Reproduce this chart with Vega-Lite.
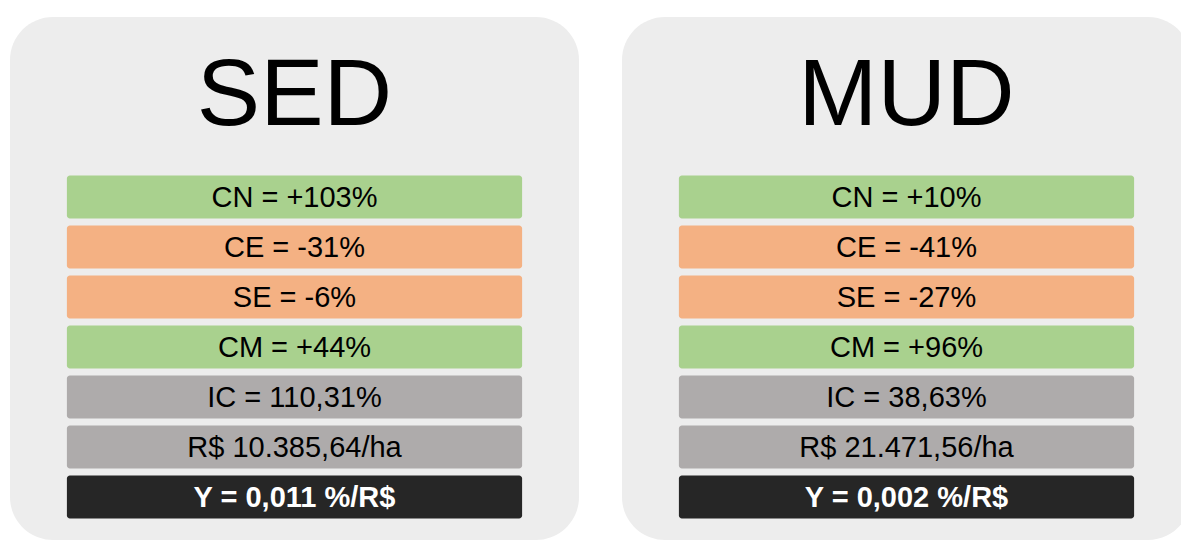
{
  "$schema": "https://vega.github.io/schema/vega-lite/v6.json",
  "width": 1181,
  "height": 540,
  "autosize": {"type": "fit", "contains": "padding"},
  "padding": {"left": 0, "right": 0, "top": 17, "bottom": 0},
  "background": "#FFFFFF",
  "config": {"view": {"stroke": null}, "font": "Liberation Sans"},
  "data": {
    "values": [
      {"panel": "SED", "row": "T", "kind": "title", "label": "SED"},
      {"panel": "SED", "row": "1", "kind": "pos", "label": "CN = +103%"},
      {"panel": "SED", "row": "2", "kind": "neg", "label": "CE = -31%"},
      {"panel": "SED", "row": "3", "kind": "neg", "label": "SE = -6%"},
      {"panel": "SED", "row": "4", "kind": "pos", "label": "CM = +44%"},
      {"panel": "SED", "row": "5", "kind": "neutral", "label": "IC = 110,31%"},
      {"panel": "SED", "row": "6", "kind": "neutral", "label": "R$ 10.385,64/ha"},
      {"panel": "SED", "row": "7", "kind": "result", "label": "Y = 0,011 %/R$"},
      {"panel": "MUD", "row": "T", "kind": "title", "label": "MUD"},
      {"panel": "MUD", "row": "1", "kind": "pos", "label": "CN = +10%"},
      {"panel": "MUD", "row": "2", "kind": "neg", "label": "CE = -41%"},
      {"panel": "MUD", "row": "3", "kind": "neg", "label": "SE = -27%"},
      {"panel": "MUD", "row": "4", "kind": "pos", "label": "CM = +96%"},
      {"panel": "MUD", "row": "5", "kind": "neutral", "label": "IC = 38,63%"},
      {"panel": "MUD", "row": "6", "kind": "neutral", "label": "R$ 21.471,56/ha"},
      {"panel": "MUD", "row": "7", "kind": "result", "label": "Y = 0,002 %/R$"}
    ]
  },
  "encoding": {
    "x": {
      "field": "panel", "type": "nominal", "axis": null,
      "scale": {"domain": ["SED", "MUD"], "range": [10, 1191], "paddingInner": 0.07026, "paddingOuter": 0}
    }
  },
  "layer": [
    {
      "transform": [{"filter": "datum.kind === 'title'"}],
      "mark": {"type": "bar", "color": "#EDEDED", "cornerRadius": 43, "clip": true},
      "encoding": {}
    },
    {
      "transform": [{"filter": "datum.kind !== 'title'"}],
      "mark": {"type": "bar", "cornerRadius": 3, "width": {"band": 0.8}},
      "encoding": {
        "y": {"field": "row", "type": "ordinal", "axis": null,
          "scale": {"domain": ["T", "1", "2", "3", "4", "5", "6", "7"], "range": [105, 505], "paddingInner": 0.14, "paddingOuter": 0.07}},
        "color": {"field": "kind", "type": "nominal", "legend": null,
          "scale": {"domain": ["pos", "neg", "neutral", "result"], "range": ["#A9D18E", "#F4B183", "#AEABAB", "#262626"]}}
      }
    },
    {
      "transform": [{"filter": "datum.kind !== 'title' && datum.kind !== 'result'"}],
      "mark": {"type": "text", "fontSize": 29, "color": "#000000", "baseline": "middle", "align": "center", "dy": 1},
      "encoding": {
        "y": {"field": "row", "type": "ordinal", "axis": null},
        "text": {"field": "label"}
      }
    },
    {
      "transform": [{"filter": "datum.kind === 'result'"}],
      "mark": {"type": "text", "fontSize": 29, "fontWeight": "bold", "color": "#FFFFFF", "baseline": "middle", "align": "center", "dy": 1},
      "encoding": {
        "y": {"field": "row", "type": "ordinal", "axis": null},
        "text": {"field": "label"}
      }
    },
    {
      "transform": [{"filter": "datum.kind === 'title'"}],
      "mark": {"type": "text", "fontSize": 95, "color": "#000000", "baseline": "alphabetic", "align": "center", "dy": -22},
      "encoding": {
        "y": {"field": "row", "type": "ordinal", "axis": null},
        "text": {"field": "label"}
      }
    }
  ]
}
